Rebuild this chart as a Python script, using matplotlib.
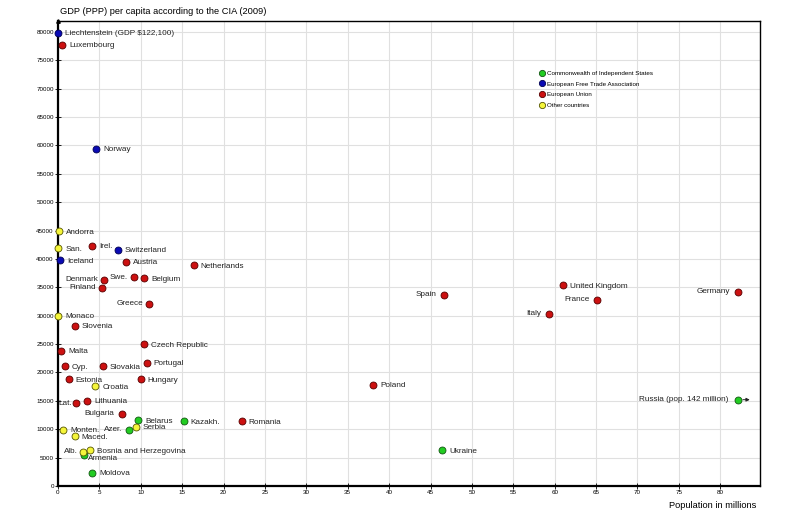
import matplotlib
matplotlib.use("Agg")
import matplotlib.pyplot as plt

plt.rcParams['font.family'] = ['Liberation Sans', 'DejaVu Sans']

# data: population (millions), GDP per capita (USD), group
names = ['Liechtenstein (GDP $122,100)', 'Luxembourg', 'Norway', 'Andorra', 'San.', 'Irel.',
         'Switzerland', 'Iceland', 'Austria', 'Netherlands', 'Denmark', 'Swe.', 'Belgium',
         'Finland', 'Greece', 'Monaco', 'Slovenia', 'Czech Republic', 'Malta', 'Cyp.',
         'Slovakia', 'Portugal', 'Estonia', 'Croatia', 'Hungary', 'Lat.', 'Lithuania',
         'Bulgaria', 'Belarus', 'Kazakh.', 'Romania', 'Monten.', 'Azer.', 'Serbia', 'Maced.',
         'Alb.', 'Bosnia and Herzegovina', 'Armenia', 'Moldova', 'Poland', 'Ukraine', 'Spain',
         'United Kingdom', 'France', 'Italy', 'Germany', 'Russia (pop. 142 million)']
pop = [0.04, 0.5, 4.6, 0.08, 0.03, 4.1, 7.2, 0.3, 8.2, 16.4, 5.5, 9.2, 10.4, 5.3, 11.0,
       0.03, 2.0, 10.4, 0.4, 0.8, 5.4, 10.7, 1.3, 4.5, 10.0, 2.2, 3.5, 7.7, 9.7, 15.2,
       22.2, 0.6, 8.6, 9.4, 2.0, 3.0, 3.9, 3.1, 4.1, 38.1, 46.4, 46.6, 61.0, 65.1, 59.3,
       82.1, 82.1]
gdp = [79800, 77700, 59400, 44900, 41900, 42300, 41600, 39800, 39500, 38900, 36300, 36800,
       36600, 34900, 32100, 30000, 28200, 25000, 23800, 21100, 21100, 21700, 18800, 17600,
       18800, 14600, 15000, 12700, 11600, 11400, 11400, 9900, 9900, 10400, 8800, 6000, 6300,
       5500, 2300, 17800, 6300, 33700, 35400, 32800, 30300, 34200, 15200]
group = ['EFTA', 'EU', 'EFTA', 'OTH', 'OTH', 'EU', 'EFTA', 'EFTA', 'EU', 'EU', 'EU', 'EU', 'EU',
         'EU', 'EU', 'OTH', 'EU', 'EU', 'EU', 'EU', 'EU', 'EU', 'EU', 'OTH', 'EU', 'EU', 'EU',
         'EU', 'CIS', 'CIS', 'EU', 'OTH', 'CIS', 'OTH', 'OTH', 'OTH', 'OTH', 'CIS', 'CIS', 'EU',
         'CIS', 'EU', 'EU', 'EU', 'EU', 'EU', 'CIS']

groups = ['CIS', 'EFTA', 'EU', 'OTH']
group_labels = ['Commonwealth of Independent States', 'European Free Trade Association',
                'European Union', 'Other countries']
colors = {'CIS': '#22cc22', 'EFTA': '#0a0ab4', 'EU': '#cc1111', 'OTH': '#f5f53a'}
edges = {'CIS': '#115511', 'EFTA': '#000050', 'EU': '#550000', 'OTH': '#555500'}

# label offsets in pixels (dx, dy); negative dx -> label left of point
left_labels = {'Denmark': -5, 'Swe.': -6, 'Finland': -6, 'Greece': -6, 'Lat.': -4,
               'Bulgaria': -7, 'Azer.': -7, 'Alb.': -5, 'Spain': -7, 'France': -7,
               'Italy': -8, 'Germany': -8, 'Russia (pop. 142 million)': -9}

fig = plt.figure(figsize=(8, 5.16), dpi=100)
ax = fig.add_axes([58/800, 30/516, 702/800, 465/516])

for g, lab in zip(groups, group_labels):
    xs = [p for p, gg in zip(pop, group) if gg == g]
    ys = [v for v, gg in zip(gdp, group) if gg == g]
    ax.plot(xs, ys, 'o', ms=5, mfc=colors[g], mec=edges[g], mew=0.6,
            label=lab, zorder=3, clip_on=False)

for n, x, y in zip(names, pop, gdp):
    if n in left_labels:
        off, ha = (left_labels[n], 0), 'right'
    elif n == 'Armenia':
        off, ha = (4, -4), 'left'
    else:
        off, ha = (7, -1), 'left'
    ax.annotate(n, (x, y), xytext=off, textcoords='offset pixels', ha=ha, va='center',
                fontsize=5.9, color='#222222')

# Russia is off the scale
ax.annotate('', xy=(pop[-1] + 1.8, gdp[-1]), xytext=(pop[-1] + 0.3, gdp[-1]),
            arrowprops=dict(arrowstyle='-|>', lw=0.7, color='#222222', mutation_scale=5))

ax.set_xlim(0, 84.8)
ax.set_ylim(0, 81900)
ax.set_xticks(range(0, 85, 5))
ax.set_yticks(range(0, 80001, 5000))
ax.tick_params(direction='inout', length=4, width=0.6, labelsize=4.5, pad=1)
ax.grid(color='#e0e0e0', lw=0.8)
ax.set_axisbelow(True)
for s in ['left', 'bottom']:
    ax.spines[s].set_linewidth(1.6)
for s in ['top', 'right']:
    ax.spines[s].set_linewidth(1.0)
ax.plot(0, 1, '^', transform=ax.transAxes, ms=2.5, color='k', clip_on=False)

ax.legend(loc='upper left', bbox_to_anchor=(536/800, 1 - 68/516), bbox_transform=fig.transFigure,
          frameon=False, fontsize=4.5, handletextpad=0.3, labelspacing=0.85,
          borderaxespad=0, handlelength=1.0, markerscale=0.9)

fig.text(60/800, 1 - 12/516, 'GDP (PPP) per capita according to the CIA (2009)',
         fontsize=6.7, ha='left', va='center')
fig.text(756/800, 1 - 506/516, 'Population in millions', fontsize=6.7, ha='right', va='center')

fig.savefig('out.png', dpi=100)
